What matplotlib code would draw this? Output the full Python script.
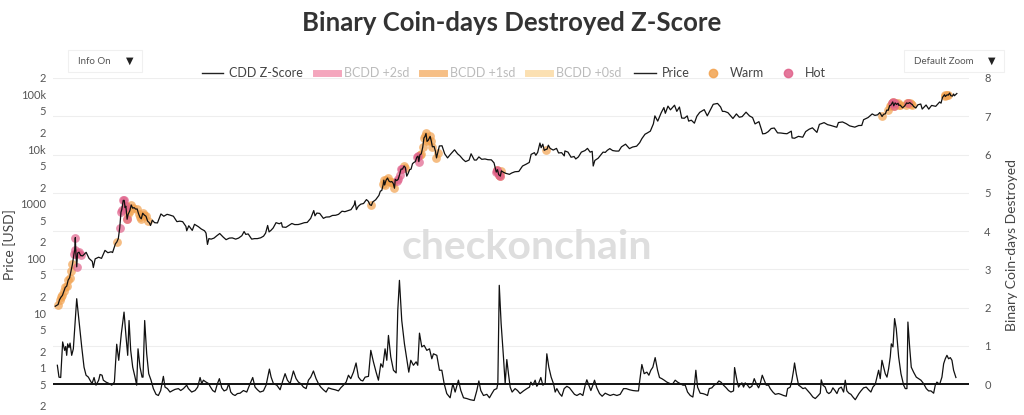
import numpy as np
import pandas as pd
import matplotlib
matplotlib.use("Agg")
import matplotlib.pyplot as plt
from matplotlib.lines import Line2D
from matplotlib.patches import FancyBboxPatch

plt.rcParams['font.family'] = ['Lato', 'DejaVu Sans']

# ---- data ----
# BTC price (USD), left log axis
price_dates = [
    "2013-01-01", "2013-01-08", "2013-01-15", "2013-01-22", "2013-01-29", "2013-02-05", "2013-02-12", "2013-02-19", "2013-02-26", "2013-03-05", "2013-03-12", "2013-03-19",
    "2013-03-26", "2013-04-02", "2013-04-06", "2013-04-09", "2013-04-12", "2013-04-16", "2013-04-20", "2013-04-27", "2013-05-05", "2013-05-15", "2013-06-01", "2013-06-15",
    "2013-07-01", "2013-07-06", "2013-07-15", "2013-08-01", "2013-08-15", "2013-09-01", "2013-09-15", "2013-10-01", "2013-10-08", "2013-10-15", "2013-10-22", "2013-10-29",
    "2013-11-05", "2013-11-12", "2013-11-18", "2013-11-22", "2013-11-29", "2013-12-04", "2013-12-08", "2013-12-12", "2013-12-18", "2013-12-23", "2013-12-31",
    "2014-01-07", "2014-01-14", "2014-01-21", "2014-01-28", "2014-02-05", "2014-02-12", "2014-02-19", "2014-02-25", "2014-03-04", "2014-03-12", "2014-03-20", "2014-03-28",
    "2014-04-05", "2014-04-11", "2014-04-20", "2014-05-01", "2014-05-15", "2014-06-01", "2014-06-15", "2014-07-01", "2014-07-15", "2014-08-01", "2014-08-18", "2014-09-01",
    "2014-09-15", "2014-10-01", "2014-10-05", "2014-10-15", "2014-11-01", "2014-11-12", "2014-12-01", "2014-12-15", "2014-12-31",
    "2015-01-07", "2015-01-14", "2015-01-21", "2015-02-01", "2015-02-15", "2015-03-01", "2015-03-15", "2015-04-01", "2015-04-15", "2015-05-01", "2015-05-15", "2015-06-01",
    "2015-06-15", "2015-07-01", "2015-07-12", "2015-07-20", "2015-08-01", "2015-08-18", "2015-09-01", "2015-09-15", "2015-10-01", "2015-10-15", "2015-10-25", "2015-11-04",
    "2015-11-11", "2015-11-20", "2015-12-01", "2015-12-15", "2015-12-31",
    "2016-01-10", "2016-01-15", "2016-02-01", "2016-02-15", "2016-03-01", "2016-03-15", "2016-04-01", "2016-04-15", "2016-05-01", "2016-05-15", "2016-05-28", "2016-06-01",
    "2016-06-16", "2016-06-22", "2016-07-01", "2016-07-15", "2016-08-02", "2016-08-15", "2016-09-01", "2016-09-15", "2016-10-01", "2016-10-15", "2016-11-01", "2016-11-15",
    "2016-12-01", "2016-12-15", "2016-12-31",
    "2017-01-04", "2017-01-11", "2017-01-20", "2017-02-01", "2017-02-15", "2017-03-01", "2017-03-10", "2017-03-18", "2017-03-25", "2017-04-01", "2017-04-15", "2017-05-01",
    "2017-05-08", "2017-05-15", "2017-05-22", "2017-05-25", "2017-05-29", "2017-06-05", "2017-06-12", "2017-06-19", "2017-06-26", "2017-07-03", "2017-07-10", "2017-07-16",
    "2017-07-20", "2017-07-27", "2017-08-03", "2017-08-10", "2017-08-17", "2017-08-24", "2017-09-01", "2017-09-07", "2017-09-14", "2017-09-21", "2017-09-28", "2017-10-05",
    "2017-10-12", "2017-10-19", "2017-10-26", "2017-11-02", "2017-11-08", "2017-11-12", "2017-11-17", "2017-11-24", "2017-12-01", "2017-12-07", "2017-12-12", "2017-12-17",
    "2017-12-22", "2017-12-28",
    "2018-01-06", "2018-01-12", "2018-01-17", "2018-01-25", "2018-02-01", "2018-02-06", "2018-02-12", "2018-02-20", "2018-03-05", "2018-03-18", "2018-04-01", "2018-04-15",
    "2018-05-05", "2018-05-20", "2018-06-01", "2018-06-15", "2018-06-28", "2018-07-15", "2018-07-25", "2018-08-10", "2018-08-20", "2018-09-01", "2018-09-15", "2018-10-01",
    "2018-10-15", "2018-11-01", "2018-11-14", "2018-11-20", "2018-11-25", "2018-11-28", "2018-12-01", "2018-12-07", "2018-12-15", "2018-12-20", "2018-12-31",
    "2019-01-10", "2019-01-28", "2019-02-08", "2019-02-24", "2019-03-15", "2019-04-02", "2019-04-20", "2019-05-05", "2019-05-14", "2019-05-30", "2019-06-06", "2019-06-15",
    "2019-06-26", "2019-07-02", "2019-07-10", "2019-07-17", "2019-07-24", "2019-07-31", "2019-08-06", "2019-08-15", "2019-08-30", "2019-09-15", "2019-09-25", "2019-10-10",
    "2019-10-23", "2019-10-26", "2019-11-10", "2019-11-25", "2019-12-10", "2019-12-18", "2019-12-31",
    "2020-01-14", "2020-02-01", "2020-02-13", "2020-02-26", "2020-03-07", "2020-03-12", "2020-03-20", "2020-04-05", "2020-04-29", "2020-05-10", "2020-05-20", "2020-06-01",
    "2020-06-15", "2020-07-01", "2020-07-15", "2020-07-28", "2020-08-17", "2020-09-05", "2020-09-20", "2020-10-10", "2020-10-25", "2020-11-05", "2020-11-20", "2020-12-01",
    "2020-12-16", "2020-12-31",
    "2021-01-08", "2021-01-22", "2021-02-08", "2021-02-21", "2021-02-28", "2021-03-13", "2021-03-25", "2021-04-14", "2021-04-25", "2021-05-08", "2021-05-19", "2021-06-01",
    "2021-06-15", "2021-06-22", "2021-07-05", "2021-07-20", "2021-08-01", "2021-08-15", "2021-09-06", "2021-09-21", "2021-10-05", "2021-10-20", "2021-11-10", "2021-11-25",
    "2021-12-04", "2021-12-15", "2021-12-31",
    "2022-01-10", "2022-01-24", "2022-02-10", "2022-02-24", "2022-03-10", "2022-03-29", "2022-04-15", "2022-04-30", "2022-05-12", "2022-05-31", "2022-06-13", "2022-06-18",
    "2022-07-01", "2022-07-15", "2022-07-30", "2022-08-14", "2022-08-30", "2022-09-15", "2022-10-01", "2022-10-15", "2022-11-05", "2022-11-09", "2022-11-21", "2022-12-10",
    "2022-12-31",
    "2023-01-14", "2023-01-31", "2023-02-16", "2023-03-10", "2023-03-22", "2023-04-14", "2023-05-01", "2023-05-15", "2023-06-15", "2023-06-23", "2023-07-13", "2023-07-31",
    "2023-08-17", "2023-09-11", "2023-09-30", "2023-10-15", "2023-10-24", "2023-11-15", "2023-12-05", "2023-12-18", "2023-12-31",
    "2024-01-11", "2024-01-17", "2024-01-22", "2024-01-29", "2024-02-07", "2024-02-14", "2024-02-21", "2024-02-28", "2024-03-05", "2024-03-10", "2024-03-14", "2024-03-19",
    "2024-03-26", "2024-04-02", "2024-04-09", "2024-04-13", "2024-04-19", "2024-05-01", "2024-05-10", "2024-05-16", "2024-05-21", "2024-05-28", "2024-06-05", "2024-06-12",
    "2024-06-18", "2024-06-24", "2024-07-05", "2024-07-15", "2024-07-29", "2024-08-05", "2024-08-24", "2024-09-06", "2024-09-20", "2024-10-10", "2024-10-29", "2024-11-05",
    "2024-11-12", "2024-11-22", "2024-11-26", "2024-12-05", "2024-12-10", "2024-12-17", "2024-12-23", "2024-12-31", "2025-01-06", "2025-01-10", "2025-01-20", "2025-01-22",
]
price_usd = [
    13.3, 13.8, 14.3, 17.5, 19.5, 21, 25, 29.5, 31, 40, 44, 59,
    78, 118, 142, 240, 120, 70, 125, 130, 113, 111, 129, 100,
    88, 68, 98, 105, 100, 140, 127, 132, 128, 153, 185, 200,
    230, 360, 700, 780, 1150, 1150, 850, 900, 520, 640, 740,
    950, 830, 850, 800, 800, 650, 560, 530, 670, 620, 590, 480,
    450, 400, 500, 450, 445, 650, 590, 640, 620, 590, 470, 480,
    470, 385, 320, 395, 325, 420, 380, 345, 320,
    290, 180, 230, 225, 235, 260, 285, 245, 220, 235, 237, 225,
    235, 260, 310, 275, 280, 225, 230, 230, 238, 255, 290, 400,
    305, 325, 360, 450, 430,
    450, 375, 370, 400, 435, 415, 416, 430, 450, 455, 520, 540,
    750, 600, 675, 665, 540, 570, 575, 610, 615, 640, 730, 715,
    750, 780, 960,
    1130, 780, 895, 980, 1010, 1190, 1110, 960, 930, 1080, 1180, 1420,
    1700, 1750, 2250, 2700, 2200, 2700, 2950, 2600, 2500, 2550, 2350, 1920,
    2800, 2650, 2800, 3400, 4300, 4300, 4900, 4600, 3200, 3600, 4200, 4300,
    5400, 5700, 5900, 7100, 7450, 5900, 7800, 8200, 10800, 16000, 17000, 19300,
    13800, 14500,
    17100, 13800, 11000, 11200, 9100, 6900, 8500, 11400, 11500, 8200, 6900, 8000,
    9700, 8200, 7500, 6500, 5900, 6300, 8200, 6300, 6300, 7200, 6500, 6600,
    6400, 6350, 5600, 4500, 3800, 4000, 4200, 3400, 3200, 4000, 3750,
    3600, 3450, 3650, 3850, 3900, 4900, 5300, 5700, 8000, 8600, 7700, 8700,
    12900, 10600, 12300, 9500, 9800, 10000, 11800, 10300, 9600, 10300, 8500, 8600,
    7500, 9250, 8800, 7100, 7300, 6600, 7200,
    8800, 9400, 10300, 8800, 9100, 4900, 6200, 6800, 8800, 8700, 9500, 10200,
    9400, 9200, 9200, 11000, 12300, 10200, 10900, 11300, 13100, 15600, 18700, 19700,
    21300, 29000,
    40500, 32500, 46400, 57500, 45200, 61200, 52300, 63500, 49000, 58800, 37000, 36700,
    40500, 32500, 33800, 29800, 39900, 47000, 52700, 40600, 51500, 66000, 68500, 59000,
    49000, 48900, 46300,
    41800, 36300, 44000, 38300, 39300, 47400, 40500, 37700, 28900, 31800, 22400, 19000,
    19300, 20800, 23800, 24300, 19800, 19700, 19300, 19100, 21300, 16000, 15800, 17100,
    16500,
    20900, 23100, 24500, 20200, 28300, 30500, 28000, 27200, 25100, 30600, 31400, 29200,
    26600, 25200, 27000, 27100, 34500, 37800, 44000, 41400, 42300,
    46600, 42700, 39500, 43300, 44200, 51800, 51300, 62400, 63800, 69000, 73000, 62000,
    70000, 65600, 69100, 63000, 64000, 57000, 60900, 65200, 70000, 68300, 71000, 67300,
    65100, 60300, 56600, 64700, 66800, 54000, 64100, 53900, 63000, 60600, 72700, 69300,
    88000, 98900, 91900, 98700, 97000, 106000, 94700, 93400, 102000, 94700, 102000, 104000,
]

# periods where the price line is flagged Warm / Hot
warm_periods = [
    ("2013-01-12", "2013-03-30"), ("2013-10-24", "2013-11-01"), ("2013-12-08", "2014-01-20"),
    ("2014-02-01", "2014-03-28"), ("2017-03-22", "2017-03-29"), ("2017-05-20", "2017-07-18"),
    ("2017-08-28", "2017-09-09"), ("2017-11-15", "2018-01-20"), ("2018-02-02", "2018-02-14"),
    ("2018-11-28", "2018-12-22"), ("2019-07-20", "2019-07-28"), ("2024-01-19", "2024-01-25"),
    ("2024-02-18", "2024-04-20"), ("2024-05-14", "2024-06-19"), ("2024-11-22", "2024-12-11"),
]
hot_periods = [
    ("2013-03-28", "2013-05-10"), ("2013-11-10", "2013-12-18"), ("2017-07-26", "2017-08-28"),
    ("2017-11-01", "2017-11-16"), ("2018-11-24", "2018-12-17"), ("2024-03-08", "2024-03-30"),
    ("2024-05-26", "2024-06-01"),
]

# CDD Z-Score (decimal year, value), right axis
z_t = [
    2013.028, 2013.050, 2013.073, 2013.099, 2013.126, 2013.140, 2013.153, 2013.166, 2013.184, 2013.198,
    2013.220, 2013.242, 2013.264, 2013.287, 2013.322, 2013.354, 2013.385, 2013.412, 2013.443, 2013.465,
    2013.492, 2013.519, 2013.545, 2013.581, 2013.599, 2013.626, 2013.643, 2013.679, 2013.724, 2013.755,
    2013.791, 2013.822, 2013.849, 2013.884, 2013.920, 2013.947, 2013.969, 2013.987, 2014.009, 2014.036,
    2014.067, 2014.089, 2014.107, 2014.134, 2014.161, 2014.174, 2014.196, 2014.223, 2014.250, 2014.281,
    2014.312, 2014.348, 2014.379, 2014.410, 2014.446, 2014.468, 2014.500, 2014.535, 2014.571, 2014.602,
    2014.647, 2014.678, 2014.714, 2014.758, 2014.781, 2014.825, 2014.870, 2014.905, 2014.937, 2014.959,
    2014.981, 2015.017, 2015.053, 2015.070, 2015.106, 2015.137, 2015.169, 2015.195, 2015.227, 2015.258,
    2015.293, 2015.320, 2015.347, 2015.374, 2015.405, 2015.436, 2015.472, 2015.517, 2015.561, 2015.606,
    2015.641, 2015.672, 2015.704, 2015.739, 2015.784, 2015.820, 2015.838, 2015.864, 2015.887, 2015.918,
    2015.963, 2016.007, 2016.042, 2016.074, 2016.105, 2016.141, 2016.185, 2016.221, 2016.252, 2016.283,
    2016.319, 2016.355, 2016.386, 2016.417, 2016.453, 2016.488, 2016.520, 2016.551, 2016.586, 2016.622,
    2016.653, 2016.698, 2016.743, 2016.787, 2016.818, 2016.854, 2016.890, 2016.921, 2016.952, 2016.988,
    2017.023, 2017.055, 2017.086, 2017.113, 2017.144, 2017.189, 2017.220, 2017.255, 2017.291, 2017.322,
    2017.354, 2017.380, 2017.411, 2017.434, 2017.456, 2017.487, 2017.523, 2017.559, 2017.581, 2017.603,
    2017.634, 2017.670, 2017.701, 2017.728, 2017.755, 2017.790, 2017.826, 2017.848, 2017.871, 2017.902,
    2017.933, 2017.969, 2018.005, 2018.036, 2018.058, 2018.103, 2018.138, 2018.170, 2018.201, 2018.236,
    2018.281, 2018.317, 2018.348, 2018.392, 2018.424, 2018.460, 2018.504, 2018.549, 2018.602, 2018.638,
    2018.665, 2018.691, 2018.727, 2018.772, 2018.807, 2018.839, 2018.870, 2018.905, 2018.919, 2018.938,
    2018.963, 2018.994, 2019.017, 2019.039, 2019.061, 2019.084, 2019.110, 2019.150, 2019.182, 2019.217,
    2019.262, 2019.307, 2019.342, 2019.360, 2019.387, 2019.418, 2019.440, 2019.463, 2019.494, 2019.521,
    2019.552, 2019.574, 2019.601, 2019.632, 2019.663, 2019.686, 2019.708, 2019.744, 2019.775, 2019.806,
    2019.842, 2019.877, 2019.909, 2019.944, 2019.976, 2020.020, 2020.056, 2020.087, 2020.109, 2020.136,
    2020.163, 2020.190, 2020.212, 2020.243, 2020.279, 2020.314, 2020.355, 2020.386, 2020.421, 2020.466,
    2020.511, 2020.555, 2020.600, 2020.635, 2020.680, 2020.724, 2020.769, 2020.800, 2020.814, 2020.845,
    2020.876, 2020.912, 2020.939, 2020.965, 2020.992, 2021.023, 2021.055, 2021.081, 2021.112, 2021.144,
    2021.179, 2021.224, 2021.260, 2021.291, 2021.322, 2021.358, 2021.394, 2021.425, 2021.456, 2021.492,
    2021.527, 2021.545, 2021.567, 2021.590, 2021.625, 2021.661, 2021.692, 2021.723, 2021.746, 2021.781,
    2021.812, 2021.848, 2021.875, 2021.902, 2021.937, 2021.973, 2022.004, 2022.036, 2022.071, 2022.085,
    2022.116, 2022.138, 2022.160, 2022.183, 2022.205, 2022.227, 2022.258, 2022.285, 2022.316, 2022.348,
    2022.375, 2022.406, 2022.428, 2022.455, 2022.482, 2022.508, 2022.539, 2022.562, 2022.597, 2022.629,
    2022.673, 2022.704, 2022.740, 2022.776, 2022.794, 2022.829, 2022.852, 2022.874, 2022.887, 2022.910,
    2022.941, 2022.963, 2022.999, 2023.030, 2023.061, 2023.097, 2023.132, 2023.164, 2023.195, 2023.231,
    2023.244, 2023.266, 2023.297, 2023.320, 2023.346, 2023.373, 2023.400, 2023.427, 2023.454, 2023.480,
    2023.512, 2023.543, 2023.565, 2023.587, 2023.614, 2023.641, 2023.668, 2023.699, 2023.721, 2023.748,
    2023.775, 2023.810, 2023.846, 2023.877, 2023.908, 2023.935, 2023.966, 2023.989, 2024.011, 2024.033,
    2024.056, 2024.078, 2024.100, 2024.123, 2024.145, 2024.167, 2024.181, 2024.203, 2024.225, 2024.247,
    2024.279, 2024.310, 2024.346, 2024.368, 2024.390, 2024.403, 2024.426, 2024.448, 2024.479, 2024.515,
    2024.546, 2024.577, 2024.613, 2024.649, 2024.680, 2024.711, 2024.747, 2024.769, 2024.791, 2024.827,
    2024.858, 2024.881, 2024.903, 2024.925, 2024.947, 2024.970, 2024.992, 2025.014, 2025.045,
]
z_val = [
    0.49, 0.18, 0.17, 1.10, 0.88, 0.98, 0.75, 1.05, 0.95, 1.07,
    0.75, 0.92, 1.58, 2.23, 1.58, 0.97, 0.44, 0.23, 0.18, 0.10,
    0.01, 0.17, -0.03, 0.10, 0.25, 0.23, 0.10, 0.05, 0.01, -0.03,
    0.05, 1.04, 0.62, 1.32, 1.88, 1.23, 0.75, 1.66, 0.88, 0.44,
    0.18, -0.03, 0.92, 0.44, 0.18, 0.18, 1.66, 0.79, 0.27, 0.10,
    -0.12, -0.27, -0.30, -0.17, 0.20, -0.08, -0.12, -0.21, -0.17, -0.14,
    -0.12, -0.17, -0.12, -0.03, -0.12, -0.21, -0.17, -0.08, 0.17, 0.01,
    0.10, 0.05, 0.01, -0.06, -0.17, -0.21, 0.01, 0.14, -0.10, -0.18,
    -0.15, 0.01, -0.21, -0.27, -0.30, -0.25, -0.24, -0.17, -0.21, 0.01,
    0.17, -0.08, -0.15, -0.21, -0.18, -0.03, 0.14, 0.39, 0.18, 0.01,
    -0.03, -0.15, 0.08, 0.27, 0.10, 0.01, 0.34, 0.14, 0.05, 0.01,
    -0.08, -0.12, 0.10, 0.18, 0.34, 0.14, 0.01, -0.08, -0.15, -0.21,
    -0.10, -0.13, -0.15, -0.18, -0.10, -0.03, 0.05, 0.23, 0.14, 0.31,
    0.55, 0.18, 0.10, 0.08, 0.18, 0.20, 0.88, 0.58, 0.31, 0.10,
    0.53, 0.44, 0.92, 0.62, 1.27, 0.71, 0.36, 0.29, 1.93, 2.71,
    1.66, 1.05, 0.66, 0.31, 0.62, 0.49, 0.58, 0.49, 1.33, 0.97,
    1.01, 0.88, 0.92, 0.66, 0.79, 0.75, 0.36, 0.36, 0.01, -0.25,
    -0.36, 0.01, -0.21, 0.10, -0.17, -0.36, -0.38, -0.41, -0.43, -0.17,
    0.08, -0.17, -0.30, -0.27, -0.36, -0.25, -0.15, -0.12, 0.01, 2.58,
    1.58, 0.71, 0.01, 0.64, 0.27, -0.08, -0.21, -0.12, -0.17, -0.25,
    -0.18, -0.12, -0.08, 0.05, -0.03, 0.10, -0.06, 0.01, 0.17, -0.03,
    0.01, 0.79, 0.44, 0.18, 0.01, -0.21, -0.12, -0.25, -0.32, -0.12,
    -0.06, -0.10, -0.18, -0.27, -0.30, -0.25, -0.30, -0.03, 0.11, -0.03,
    -0.17, -0.03, 0.10, -0.10, -0.25, -0.32, -0.24, -0.27, -0.30, -0.27,
    -0.30, -0.27, -0.12, -0.12, -0.15, -0.17, -0.18, -0.18, 0.05, 0.51,
    0.27, 0.31, 0.23, 0.36, 0.44, 0.69, 0.36, 0.17, 0.14, 0.10,
    0.05, 0.01, 0.01, 0.10, 0.05, 0.01, -0.03, -0.03, -0.21, -0.30,
    -0.34, -0.10, 0.36, -0.08, -0.24, -0.25, -0.27, -0.30, -0.12, -0.10,
    -0.03, 0.01, 0.08, 0.05, -0.03, -0.10, -0.17, -0.21, -0.18, 0.43,
    0.10, -0.08, -0.01, 0.03, -0.08, 0.03, -0.03, -0.10, -0.06, 0.14,
    0.01, -0.10, 0.01, 0.23, 0.10, -0.03, -0.03, -0.12, -0.21, -0.27,
    -0.25, -0.27, -0.30, -0.32, -0.12, -0.08, 0.10, 0.36, 0.55, 0.27,
    -0.03, -0.06, -0.12, -0.10, -0.17, -0.25, -0.34, -0.38, -0.32, -0.24,
    0.11, -0.03, -0.08, -0.21, -0.25, -0.21, -0.10, -0.17, -0.25, -0.12,
    -0.08, -0.21, 0.10, -0.18, -0.24, -0.27, -0.34, -0.41, -0.34, -0.25,
    -0.18, -0.10, -0.08, -0.15, -0.21, -0.08, -0.01, 0.18, 0.36, 0.14,
    0.62, 0.44, 0.27, 0.18, 0.40, 0.71, 1.05, 0.97, 1.71, 1.45,
    0.71, 0.27, -0.03, -0.12, -0.12, 1.62, 0.97, 0.44, 0.31, 0.18,
    0.14, 0.10, 0.01, -0.12, -0.18, -0.18, -0.24, -0.03, 0.05, -0.01,
    0.18, 0.53, 0.66, 0.75, 0.66, 0.69, 0.62, 0.36, 0.17,
]

price_ticks = [0.2, 0.5, 1, 2, 5, 10, 20, 50, 100, 200, 500, 1000, 2000, 5000,
               1e4, 2e4, 5e4, 1e5, 2e5]
price_tick_labels = ["2", "5", "1", "2", "5", "10", "2", "5", "100", "2", "5", "1000", "2", "5",
                     "10k", "2", "5", "100k", "2"]
z_ticks = [0, 1, 2, 3, 4, 5, 6, 7, 8]
grid_years = [2014, 2016, 2018, 2020, 2022, 2024]


def to_year(dates):
    d = pd.to_datetime(dates)
    return np.asarray(d.year + (d.dayofyear - 1) / 365.25, dtype=float)


pt = to_year(price_dates)
pv = np.array(price_usd)


def flagged(periods):
    mask = np.zeros(len(pt), dtype=bool)
    for a, b in periods:
        ya, yb = to_year([a, b])
        mask |= (pt >= ya) & (pt <= yb)
    return mask


warm = flagged(warm_periods)
hot = flagged(hot_periods)

# ---- figure ----
fig = plt.figure(figsize=(10.24, 4.15), dpi=100)
ax = fig.add_axes([53 / 1024, 0.0, 916 / 1024, 337 / 415])
ax2 = ax.twinx()
ax.set_zorder(ax2.get_zorder() + 1)
ax.patch.set_visible(False)

warm_c = '#f2a24f'
hot_c = '#e0618a'

# z-score on right axis
ax2.plot(z_t, z_val, color='#111111', lw=0.9)
ax2.axhline(0, color='#111111', lw=1.4)
ax2.set_ylim(-0.81, 8)
ax2.set_yticks(z_ticks)
ax2.grid(True, color='#eeeeee', lw=0.8)
ax2.set_axisbelow(True)

# price on left axis
ax.scatter(pt[warm], pv[warm], s=40, color=warm_c, alpha=0.7, lw=0, zorder=2)
ax.scatter(pt[hot], pv[hot], s=40, color=hot_c, alpha=0.7, lw=0, zorder=3)
ax.plot(pt, pv, color='#111111', lw=0.9, zorder=4)
ax.set_yscale('log')
ax.set_ylim(0.136, 2e5)
ax.set_yticks(price_ticks)
ax.set_yticklabels(price_tick_labels)
ax.yaxis.set_minor_locator(matplotlib.ticker.NullLocator())
ax.set_xlim(2012.97, 2025.22)
ax.set_xticks(grid_years)

for a in (ax, ax2):
    for s in a.spines.values():
        s.set_visible(False)
ax.tick_params(axis='y', length=0, labelsize=8, labelcolor='#555555', pad=5)
ax2.tick_params(axis='y', length=0, labelsize=8, labelcolor='#555555', pad=11)
ax.tick_params(axis='x', length=0, labelbottom=False)
ax2.tick_params(axis='x', length=0, labelbottom=False)

# texts
fig.text(0.5, 0.945, 'Binary Coin-days Destroyed Z-Score', ha='center', va='center',
         fontsize=18.5, fontweight='bold', color='#333333')
fig.text(527 / 1024, 1 - 247 / 415, 'checkonchain', ha='center', va='center',
         fontsize=29.5, fontweight='bold', color='#dedede', zorder=0)
fig.text(10 / 1024, 1 - 245 / 415, 'Price [USD]', rotation=90, ha='center', va='center',
         fontsize=10, color='#444444')
fig.text(1012 / 1024, 1 - 245 / 415, 'Binary Coin-days Destroyed', rotation=90, ha='center',
         va='center', fontsize=10, color='#444444')

# dropdown boxes
for x0, w, lab in [(68, 74, 'Info On'), (904, 100, 'Default Zoom')]:
    fig.patches.append(FancyBboxPatch((x0 / 1024, 1 - 72 / 415), w / 1024, 22 / 415,
                                      boxstyle='square,pad=0', transform=fig.transFigure,
                                      facecolor='white', edgecolor='#f0f0f0', lw=0.8))
    fig.text((x0 + 10) / 1024, 1 - 61 / 415, lab, ha='left', va='center', fontsize=7,
             color='#555555')
    fig.text((x0 + w - 12) / 1024, 1 - 61 / 415, '\u25bc', ha='center', va='center', fontsize=7,
             color='#222222', family=['DejaVu Sans'])

# legend
handles = [
    Line2D([], [], color='#222222', lw=1),
    Line2D([], [], color='#f4a6bd', lw=5),
    Line2D([], [], color='#f6bf86', lw=5),
    Line2D([], [], color='#fbe0b2', lw=5),
    Line2D([], [], color='#222222', lw=1),
    Line2D([], [], ls='', marker='o', color=warm_c, ms=6, alpha=0.85),
    Line2D([], [], ls='', marker='o', color=hot_c, ms=6, alpha=0.85),
]
labels = ['CDD Z-Score', 'BCDD +2sd', 'BCDD +1sd', 'BCDD +0sd', 'Price', 'Warm', 'Hot']
leg = fig.legend(handles, labels, ncol=7, loc='center', bbox_to_anchor=(514 / 1024, 1 - 73 / 415),
                 frameon=False, fontsize=9, handlelength=1.7, handletextpad=0.5,
                 columnspacing=1.05)
for txt, c in zip(leg.get_texts(), ['#444444', '#bbbbbb', '#bbbbbb', '#bbbbbb', '#444444',
                                    '#444444', '#444444']):
    txt.set_color(c)

fig.savefig('out.png', dpi=100)
